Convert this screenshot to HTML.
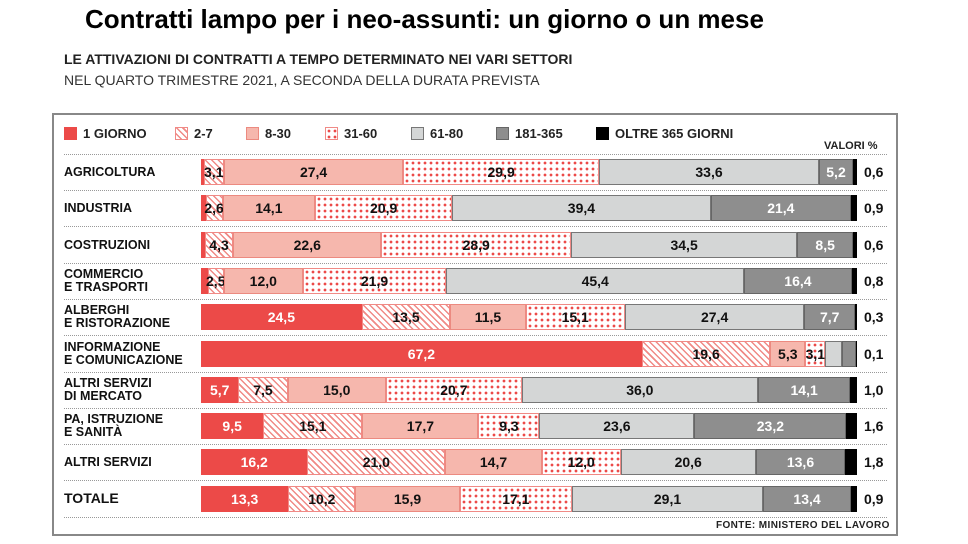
<!DOCTYPE html>
<html><head><meta charset="utf-8"><style>
body{margin:0;width:968px;height:544px;background:#fff;font-family:"Liberation Sans",sans-serif;position:relative;overflow:hidden}
.t{position:absolute;left:85px;top:4px;font-size:26px;font-weight:bold;color:#000}
.s1{position:absolute;left:64px;top:51px;font-size:14px;font-weight:bold;color:#222}
.s2{position:absolute;left:64px;top:72px;font-size:14px;color:#333}
.box{position:absolute;left:52px;top:113px;width:846px;height:423px;border:2px solid #888;box-sizing:border-box}
.leg{position:absolute;top:126px;font-size:13px;font-weight:bold;color:#222;display:flex;align-items:center}
.sw{width:13px;height:13px;margin-right:6px;box-sizing:border-box}
.row{position:absolute;left:201px;width:656px;height:26px;display:flex}
.seg{height:100%;box-sizing:border-box;display:flex;align-items:center;justify-content:center;font-size:14px;font-weight:bold;color:#111;overflow:visible;white-space:nowrap}
.a{background:#ec4a48;color:#fff}
.b{background:repeating-linear-gradient(45deg,#fff 0 3px,#f08a86 3px 4.5px);border:1px solid #f08a86}
.c{background:#f6b7ad;border:1px solid #ec8a80}
.d{background:#fff radial-gradient(circle,#ec4a48 1.2px,transparent 1.6px) 0 0/6px 6px;border:1px solid #f08a86}
.e{background:#d4d6d6;border:1px solid #777}
.f{background:#8e8e8e;color:#fff;border:1px solid #666}
.g{background:#000}
.lab{position:absolute;left:64px;font-size:12.5px;font-weight:bold;color:#111;line-height:13px}
.v{position:absolute;left:864px;font-size:14px;font-weight:bold;color:#111}
.dl{position:absolute;left:64px;width:823px;border-top:1px dotted #999}
</style></head><body>
<div class="t">Contratti lampo per i neo-assunti: un giorno o un mese</div>
<div class="s1">LE ATTIVAZIONI DI CONTRATTI A TEMPO DETERMINATO NEI VARI SETTORI</div>
<div class="s2">NEL QUARTO TRIMESTRE 2021, A SECONDA DELLA DURATA PREVISTA</div>
<div class="box"></div>
<div class="leg" style="left:64px"><div class="sw a"></div>1 GIORNO</div>
<div class="leg" style="left:175px"><div class="sw b"></div>2-7</div>
<div class="leg" style="left:246px"><div class="sw c"></div>8-30</div>
<div class="leg" style="left:325px"><div class="sw d"></div>31-60</div>
<div class="leg" style="left:411px"><div class="sw e"></div>61-80</div>
<div class="leg" style="left:496px"><div class="sw f"></div>181-365</div>
<div class="leg" style="left:596px"><div class="sw g"></div>OLTRE 365 GIORNI</div>
<div style="position:absolute;left:824px;top:140px;font-size:11px;font-weight:bold;color:#222">VALORI %</div>
<div style="position:absolute;left:716px;top:520px;font-size:10px;font-weight:bold;color:#222;letter-spacing:0.4px">FONTE: MINISTERO DEL LAVORO</div>
<div id="c"></div>
<script>
var rows=[
["AGRICOLTURA",[0.4,3.1,27.4,29.9,33.6,5.2,0.6],"0,6",[0,1,1,1,1,1,0]],
["INDUSTRIA",[0.7,2.6,14.1,20.9,39.4,21.4,0.9],"0,9",[0,1,1,1,1,1,0]],
["COSTRUZIONI",[0.6,4.3,22.6,28.9,34.5,8.5,0.6],"0,6",[0,1,1,1,1,1,0]],
["COMMERCIO<br>E TRASPORTI",[1.0,2.5,12.0,21.9,45.4,16.4,0.8],"0,8",[0,1,1,1,1,1,0]],
["ALBERGHI<br>E RISTORAZIONE",[24.5,13.5,11.5,15.1,27.4,7.7,0.3],"0,3",[1,1,1,1,1,1,0]],
["INFORMAZIONE<br>E COMUNICAZIONE",[67.2,19.6,5.3,3.1,2.5,2.2,0.1],"0,1",[1,1,1,1,0,0,0]],
["ALTRI SERVIZI<br>DI MERCATO",[5.7,7.5,15.0,20.7,36.0,14.1,1.0],"1,0",[1,1,1,1,1,1,0]],
["PA, ISTRUZIONE<br>E SANITÀ",[9.5,15.1,17.7,9.3,23.6,23.2,1.6],"1,6",[1,1,1,1,1,1,0]],
["ALTRI SERVIZI",[16.2,21.0,14.7,12.0,20.6,13.6,1.8],"1,8",[1,1,1,1,1,1,0]],
["TOTALE",[13.3,10.2,15.9,17.1,29.1,13.4,0.9],"0,9",[1,1,1,1,1,1,0]]];
var cls="abcdefg",h="";
h+='<div class="dl" style="top:154px"></div>';
rows.forEach(function(r,i){
 var cy=172+i*36.3, sum=r[1].reduce(function(a,b){return a+b},0);
 h+='<div class="lab" style="top:'+(cy-(r[0].indexOf("<br>")>0?13:6))+'px;'+(i==9?'font-size:14px;top:'+(cy-7)+'px;':'')+'">'+r[0]+'</div>';
 h+='<div class="row" style="top:'+(cy-13)+'px">';
 r[1].forEach(function(v,j){h+='<div class="seg '+cls[j]+'" style="width:'+(v/sum*100)+'%">'+(r[3][j]?v.toFixed(1).replace(".",","):"")+'</div>';});
 h+='</div><div class="v" style="top:'+(cy-8)+'px">'+r[2]+'</div>';
 h+='<div class="dl" style="top:'+(cy+18)+'px"></div>';
});
document.getElementById("c").innerHTML=h;
</script>
</body></html>
